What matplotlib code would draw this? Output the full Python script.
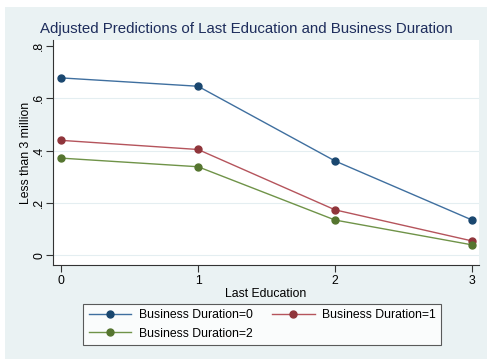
import matplotlib
matplotlib.use('Agg')
import matplotlib.pyplot as plt
from matplotlib.patches import Rectangle

plt.rcParams['font.family'] = ['Liberation Sans', 'DejaVu Sans']

### DATA
education = [0, 1, 2, 3]
duration0 = [0.678, 0.646, 0.360, 0.134]
duration1 = [0.439, 0.404, 0.173, 0.054]
duration2 = [0.371, 0.338, 0.134, 0.039]
series_labels = ['Business Duration=0', 'Business Duration=1', 'Business Duration=2']
yticks = [0, 0.2, 0.4, 0.6, 0.8]
ytick_labels = ['0', '.2', '.4', '.6', '.8']

line_colors = ['#3f6f9f', '#b5545c', '#6f9348']
marker_colors = ['#1a476f', '#90353b', '#55752f']
bg = '#eaf2f3'

W, H = 487, 359
fig = plt.figure(figsize=(W / 100, H / 100), dpi=100)
fig.patch.set_facecolor('white')
fig.patches.append(Rectangle((5 / W, 0), 1, 1 - 7 / H, transform=fig.transFigure,
                             facecolor=bg, edgecolor='none', zorder=-10))

ax = fig.add_axes([53 / W, 1 - 265 / H, (479 - 53) / W, (265 - 40) / H])
ax.set_facecolor('white')

handles = []
for vals, lc, mc, lab in zip([duration0, duration1, duration2], line_colors, marker_colors, series_labels):
  h, = ax.plot(education, vals, color=lc, lw=1.0, marker='o', ms=5,
               mfc=mc, mec=mc, label=lab, zorder=3)
  handles.append(h)

ax.set_xlim(-0.058, 3.05)
ax.set_ylim(-0.038, 0.823)
ax.set_xticks(education)
ax.set_yticks(yticks)
ax.set_yticklabels(ytick_labels, rotation=90, va='center')
for y in yticks[:-1]:
  ax.axhline(y, color='#e4eef1', lw=0.8, zorder=1)

for side in ['top', 'right']:
  ax.spines[side].set_visible(False)
for side in ['left', 'bottom']:
  ax.spines[side].set_color('#333333')
  ax.spines[side].set_linewidth(0.8)
ax.tick_params(direction='out', length=5, width=0.8, color='#333333', labelsize=8.8, pad=2)
ax.tick_params(axis='y', pad=0.5)

ax.set_xlabel('Last Education', fontsize=8.8, labelpad=1)
ax.set_ylabel('Less than 3 million', fontsize=8.8)
ax.yaxis.set_label_coords((32 - 53) / (479 - 53), 0.5)
fig.text(0.5 * (38 + 455) / W, 1 - 29 / H, 'Adjusted Predictions of Last Education and Business Duration',
         ha='center', va='center', fontsize=10.8, color='#1e2d5c')

# row-major order like the reference: 0 and 1 on the first row, 2 below
order = [0, 2, 1]
leg = fig.legend([handles[i] for i in order], [series_labels[i] for i in order],
                 loc='upper left', bbox_to_anchor=(83 / W, 1 - 304 / H), ncol=2,
                 fontsize=8.8, frameon=True, fancybox=False, handlelength=3.5,
                 handletextpad=0.6, columnspacing=1.6, borderpad=0.45,
                 labelspacing=0.5, borderaxespad=0)
leg.get_frame().set_edgecolor('#333333')
leg.get_frame().set_linewidth(0.8)
leg.get_frame().set_facecolor('white')

fig.savefig('out.png', dpi=100, facecolor=fig.get_facecolor())
